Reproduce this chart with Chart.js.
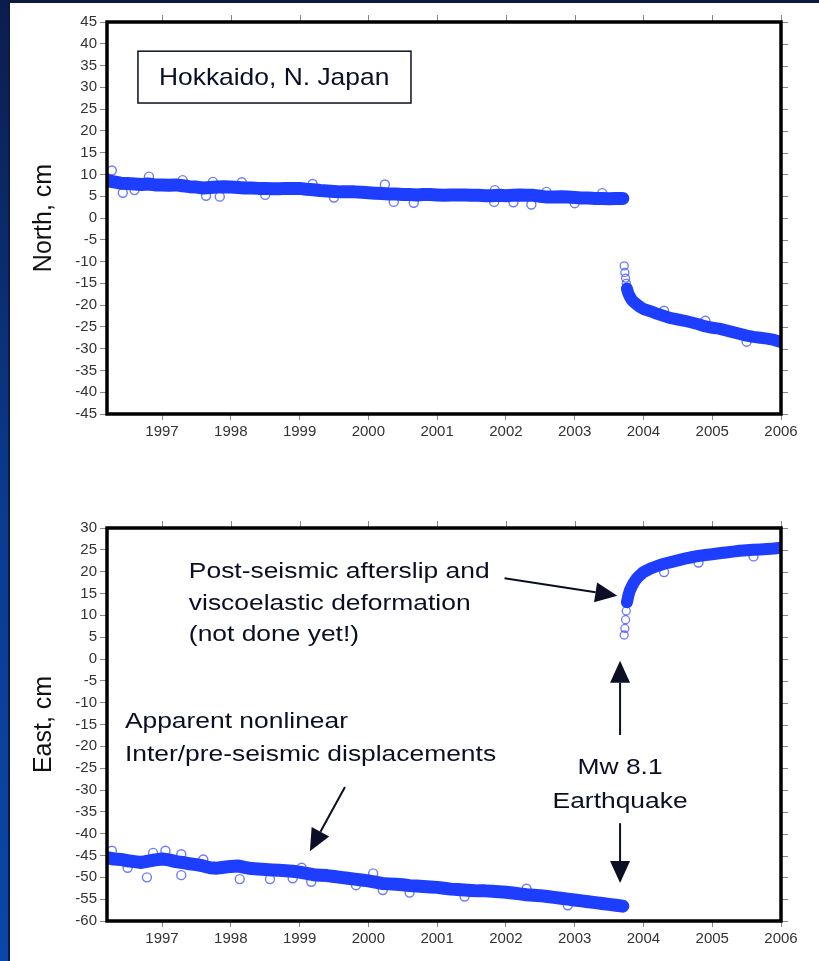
<!DOCTYPE html>
<html>
<head>
<meta charset="utf-8">
<script src="https://cdn.jsdelivr.net/npm/chart.js@4.4.1/dist/chart.umd.min.js"></script>
<style>
  html, body { margin: 0; padding: 0; }
  body { width: 819px; height: 961px; background: #0b1a40; position: relative; overflow: hidden; }
  #band { position: absolute; left: 0; top: 0; width: 8px; height: 961px;
          background: linear-gradient(#0b1d4d, #0a3c92 55%, #0a47a8); }
  #panel { position: absolute; left: 10px; top: 3px; width: 809px; height: 958px; background: #fff; }
  canvas { position: absolute; left: 0; }
</style>
</head>
<body>
<div id="band"></div>
<div id="panel"></div>
<canvas id="north" width="819" height="470" style="top:0px"></canvas>
<canvas id="east" width="819" height="491" style="top:470px"></canvas>
<script>
// epochs (decimal years) before the 2003 earthquake
const preYears = [1996.2, 1996.3, 1996.4, 1996.5, 1996.6, 1996.7, 1996.8, 1996.9,
  1997.0, 1997.1, 1997.2, 1997.3, 1997.4, 1997.5, 1997.6, 1997.7, 1997.8, 1997.9,
  1998.0, 1998.1, 1998.2, 1998.3, 1998.4, 1998.5, 1998.6, 1998.7, 1998.8, 1998.9,
  1999.0, 1999.1, 1999.2, 1999.3, 1999.4, 1999.5, 1999.6, 1999.7, 1999.8, 1999.9,
  2000.0, 2000.1, 2000.2, 2000.3, 2000.4, 2000.5, 2000.6, 2000.7, 2000.8, 2000.9,
  2001.0, 2001.1, 2001.2, 2001.3, 2001.4, 2001.5, 2001.6, 2001.7, 2001.8, 2001.9,
  2002.0, 2002.1, 2002.2, 2002.3, 2002.4, 2002.5, 2002.6, 2002.7, 2002.8, 2002.9,
  2003.0, 2003.1, 2003.2, 2003.3, 2003.4, 2003.5, 2003.6, 2003.7];
const northPre = [8.6, 8.3, 8.0, 7.9, 7.8, 7.7, 7.8, 7.6,
  7.6, 7.5, 7.6, 7.4, 7.2, 7.1, 6.9, 7.0, 7.1, 7.2,
  7.1, 7.0, 6.9, 6.9, 6.8, 6.8, 6.7, 6.7, 6.8, 6.8,
  6.8, 6.6, 6.5, 6.3, 6.2, 6.1, 6.0, 6.0, 6.0, 5.9,
  5.8, 5.7, 5.6, 5.5, 5.5, 5.4, 5.4, 5.3, 5.4, 5.4,
  5.3, 5.2, 5.3, 5.3, 5.3, 5.2, 5.2, 5.1, 5.1, 5.2,
  5.1, 5.2, 5.3, 5.2, 5.2, 5.0, 4.8, 4.8, 4.9, 4.8,
  4.7, 4.6, 4.6, 4.5, 4.5, 4.4, 4.5, 4.5];
const eastPre = [-45.5, -45.8, -45.9, -46.2, -46.4, -46.6, -46.3, -46.0,
  -45.8, -46.0, -46.4, -46.6, -46.9, -47.1, -47.4, -47.8, -47.9, -47.7,
  -47.5, -47.4, -47.7, -48.0, -48.1, -48.2, -48.3, -48.4, -48.5, -48.6,
  -48.8, -49.1, -49.4, -49.5, -49.6, -49.8, -50.0, -50.2, -50.4, -50.6,
  -50.8, -51.1, -51.4, -51.5, -51.6, -51.7, -51.9, -52.0, -52.1, -52.2,
  -52.3, -52.5, -52.7, -52.8, -52.9, -53.0, -53.1, -53.1, -53.2, -53.3,
  -53.4, -53.6, -53.8, -54.0, -54.1, -54.2, -54.4, -54.6, -54.8, -55.0,
  -55.2, -55.4, -55.6, -55.8, -56.0, -56.2, -56.4, -56.6];

// epochs after the earthquake (denser right after it)
const postYears = [2003.72, 2003.73, 2003.74, 2003.75, 2003.76, 2003.78, 2003.8, 2003.83,
  2003.86, 2003.9, 2003.95, 2004.0, 2004.1, 2004.2, 2004.3, 2004.4, 2004.5, 2004.6,
  2004.7, 2004.8, 2004.9, 2005.0, 2005.1, 2005.2, 2005.3, 2005.4, 2005.5, 2005.6,
  2005.7, 2005.8, 2005.9, 2006.0];
const northPost = [-11.0, -12.5, -13.8, -15.0, -16.2, -17.3, -18.0, -18.8,
  -19.3, -19.8, -20.4, -20.9, -21.4, -22.0, -22.5, -23.0, -23.3, -23.6,
  -24.0, -24.4, -24.9, -25.2, -25.4, -25.8, -26.2, -26.6, -27.0, -27.3,
  -27.5, -27.7, -28.0, -28.5];
const eastPost = [5.5, 7.0, 9.0, 11.0, 13.0, 14.5, 15.6, 16.6,
  17.5, 18.4, 19.2, 19.9, 20.7, 21.3, 21.8, 22.2, 22.6, 23.0,
  23.3, 23.6, 23.8, 24.0, 24.2, 24.4, 24.6, 24.8, 24.9, 25.0,
  25.1, 25.2, 25.3, 25.5];

// scattered daily solutions sticking out of the band
const northOutYears = [1996.27, 1996.43, 1996.81, 1997.64, 1997.74, 1997.84, 1998.16, 1999.19,
  2000.24, 2000.37, 2000.66, 2001.83, 2001.84, 2002.11, 2002.37, 2002.59,
  1996.6, 1997.3, 1998.5, 1999.5, 2003.0, 2003.4, 2004.3, 2004.9, 2005.5];
const northOutVals = [10.9, 5.8, 9.5, 5.1, 8.3, 4.9, 8.2, 7.8,
  7.7, 3.7, 3.5, 3.7, 6.4, 3.6, 3.1, 6.0,
  6.4, 8.7, 5.3, 4.7, 3.4, 5.7, -21.3, -23.6, -28.4];
const eastOutYears = [1996.27, 1996.78, 1996.87, 1997.05, 1997.28, 1997.28, 1998.13, 1998.57,
  1999.03, 1999.17, 1999.82, 2000.07, 2000.21, 2001.4, 2002.3, 2002.9,
  1996.5, 1997.6, 1998.9, 2000.6, 2004.3, 2004.8, 2005.6];
const eastOutVals = [-43.9, -50.0, -44.4, -43.9, -44.7, -49.5, -50.4, -50.4,
  -47.8, -51.0, -51.8, -49.1, -52.9, -54.4, -52.6, -56.4,
  -47.8, -45.9, -50.2, -53.5, 19.9, 22.1, 23.5];

const yearTicks = [1997, 1998, 1999, 2000, 2001, 2002, 2003, 2004, 2005, 2006];
const northTicks = [-45, -40, -35, -30, -25, -20, -15, -10, -5, 0, 5, 10, 15, 20, 25, 30, 35, 40, 45];
const eastTicks = [-60, -55, -50, -45, -40, -35, -30, -25, -20, -15, -10, -5, 0, 5, 10, 15, 20, 25, 30];

const FONT = "'Liberation Sans', Arial, Helvetica, sans-serif";
const BLUE = '#1d3dff';
const RING = 'rgba(45,65,255,0.7)';
const INK = '#0a0f25';

function pts(xs, ys) { return xs.map((x, i) => ({x: x, y: ys[i]})); }

// frame, top/right ticks, text notes and arrows
const overlay = {
  id: 'overlay',
  afterDraw(chart, args, o) {
    const {ctx, chartArea: a, scales: {x, y}} = chart;
    ctx.save();
    ctx.strokeStyle = '#888';
    ctx.lineWidth = 1;
    ctx.beginPath();
    x.ticks.forEach(t => {
      const px = Math.round(x.getPixelForValue(t.value)) + 0.5;
      ctx.moveTo(px, a.top); ctx.lineTo(px, a.top - 7);
    });
    y.ticks.forEach(t => {
      const py = Math.round(y.getPixelForValue(t.value)) + 0.5;
      ctx.moveTo(a.right, py); ctx.lineTo(a.right + 7, py);
    });
    ctx.stroke();

    ctx.strokeStyle = '#000';
    ctx.lineWidth = 3.5;
    ctx.strokeRect(a.left, a.top, a.right - a.left, a.bottom - a.top);

    ctx.fillStyle = INK;
    ctx.strokeStyle = INK;
    if (o.box) {
      const b = o.box;
      const x1 = x.getPixelForValue(b.x1), x2 = x.getPixelForValue(b.x2);
      const y1 = y.getPixelForValue(b.y1), y2 = y.getPixelForValue(b.y2);
      ctx.fillStyle = '#fff';
      ctx.fillRect(x1, y1, x2 - x1, y2 - y1);
      ctx.lineWidth = 1.5;
      ctx.strokeRect(x1, y1, x2 - x1, y2 - y1);
      ctx.fillStyle = INK;
    }
    (o.labels || []).forEach(l => {
      ctx.save();
      ctx.translate(x.getPixelForValue(l.x), y.getPixelForValue(l.y));
      ctx.scale(l.sx || 1.2, 1);
      ctx.font = (l.size || 22) + 'px ' + FONT;
      ctx.textAlign = l.align || 'left';
      ctx.textBaseline = 'alphabetic';
      ctx.fillText(l.text, 0, 0);
      ctx.restore();
    });
    (o.arrows || []).forEach(r => {
      const x0 = x.getPixelForValue(r.x0), y0 = y.getPixelForValue(r.y0);
      const x1 = x.getPixelForValue(r.x1), y1 = y.getPixelForValue(r.y1);
      const ang = Math.atan2(y1 - y0, x1 - x0);
      const len = 22, half = 10;
      const bx = x1 - len * Math.cos(ang), by = y1 - len * Math.sin(ang);
      ctx.lineWidth = 2;
      ctx.beginPath();
      ctx.moveTo(x0, y0); ctx.lineTo(bx, by);
      ctx.stroke();
      ctx.beginPath();
      ctx.moveTo(x1, y1);
      ctx.lineTo(bx + half * Math.sin(ang), by - half * Math.cos(ang));
      ctx.lineTo(bx - half * Math.sin(ang), by + half * Math.cos(ang));
      ctx.closePath();
      ctx.fill();
    });
    ctx.restore();
  }
};

function buildChart(id, cfg) {
  const ctx = document.getElementById(id).getContext('2d');
  const H = ctx.canvas.height;
  return new Chart(ctx, {
    type: 'scatter',
    data: {
      datasets: [
        {data: pts(preYears, cfg.pre), showLine: true, pointRadius: 0, borderWidth: 13,
         borderColor: BLUE, borderCapStyle: 'round', borderJoinStyle: 'round'},
        {data: pts(postYears.slice(4), cfg.post.slice(4)), showLine: true, pointRadius: 0, borderWidth: 12,
         borderColor: BLUE, borderCapStyle: 'round', borderJoinStyle: 'round'},
        {data: pts(preYears.concat(postYears), cfg.pre.concat(cfg.post)), pointRadius: 4,
         borderWidth: 1.3, borderColor: RING, backgroundColor: 'rgba(0,0,0,0)'},
        {data: pts(cfg.outX, cfg.outY), pointRadius: 4.5,
         borderWidth: 1.4, borderColor: RING, backgroundColor: 'rgba(0,0,0,0)'}
      ]
    },
    options: {
      responsive: false,
      animation: false,
      devicePixelRatio: 1,
      layout: {padding: {left: 0, top: cfg.top, right: 38, bottom: 0}},
      scales: {
        x: {
          min: 1996.2, max: 2006,
          afterBuildTicks: s => { s.ticks = yearTicks.map(v => ({value: v})); },
          afterFit: s => { s.height = H - cfg.bottom; },
          grid: {drawOnChartArea: false, tickLength: 6, color: '#888'},
          border: {display: false},
          ticks: {font: {family: FONT, size: 15}, color: '#333', padding: 3, maxRotation: 0,
                  callback: v => String(v)}
        },
        y: {
          min: cfg.yTicks[0], max: cfg.yTicks[cfg.yTicks.length - 1],
          afterBuildTicks: s => { s.ticks = cfg.yTicks.map(v => ({value: v})); },
          afterFit: s => { s.width = 107; },
          grid: {drawOnChartArea: false, tickLength: 7, color: '#888'},
          border: {display: false},
          ticks: {font: {family: FONT, size: 15}, color: '#333', padding: 3, callback: v => String(v)},
          title: {display: true, text: cfg.title, color: '#111',
                  font: {family: FONT, size: 25}, padding: {top: 29, bottom: 0}}
        }
      },
      plugins: {
        legend: {display: false},
        tooltip: {enabled: false},
        overlay: cfg.notes
      }
    },
    plugins: [overlay]
  });
}

buildChart('north', {
  pre: northPre, post: northPost, outX: northOutYears, outY: northOutVals,
  yTicks: northTicks, title: 'North, cm', top: 22, bottom: 414,
  notes: {
    box: {x1: 1996.65, x2: 2000.62, y1: 38.3, y2: 26.4},
    labels: [{text: 'Hokkaido, N. Japan', x: 1998.63, y: 30.5, align: 'center', size: 24, sx: 1.1}]
  }
});

buildChart('east', {
  pre: eastPre, post: eastPost, outX: eastOutYears, outY: eastOutVals,
  yTicks: eastTicks, title: 'East, cm', top: 58, bottom: 451,
  notes: {
    labels: [
      {text: 'Post-seismic afterslip and', x: 1997.39, y: 18.6},
      {text: 'viscoelastic deformation', x: 1997.39, y: 11.3},
      {text: '(not done yet!)', x: 1997.39, y: 4.1},
      {text: 'Apparent nonlinear', x: 1996.46, y: -15.8},
      {text: 'Inter/pre-seismic displacements', x: 1996.46, y: -23.4},
      {text: 'Mw 8.1', x: 2003.66, y: -26.3, align: 'center'},
      {text: 'Earthquake', x: 2003.66, y: -34.1, align: 'center'}
    ],
    arrows: [
      {x0: 2001.98, y0: 18.5, x1: 2003.62, y1: 14.5},
      {x0: 1999.66, y0: -29.3, x1: 1999.15, y1: -44.0},
      {x0: 2003.66, y0: -17.4, x1: 2003.66, y1: -0.4},
      {x0: 2003.66, y0: -37.6, x1: 2003.66, y1: -51.3}
    ]
  }
});
</script>
</body>
</html>
